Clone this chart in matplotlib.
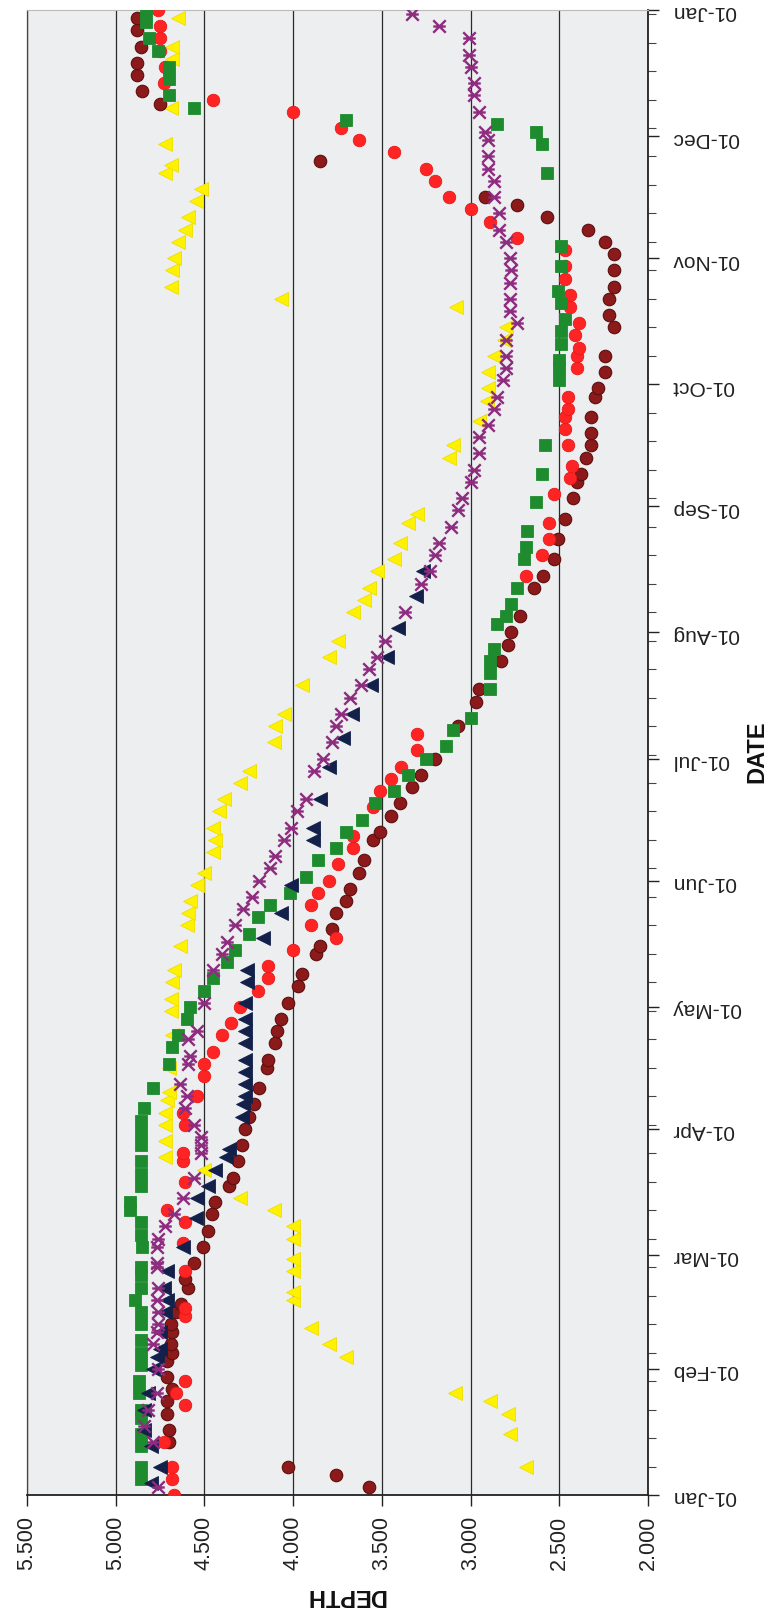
import matplotlib
matplotlib.use("Agg")
import matplotlib.pyplot as plt
import matplotlib.dates as mdates
from matplotlib.path import Path
from matplotlib.ticker import FormatStrFormatter, FixedLocator
import datetime as dt

plt.rcParams['font.family'] = ['Liberation Sans', 'DejaVu Sans']

# (day offset from 01-Jan-2010, depth)
maroon = [(2,3.57),(5,3.76),(7,4.03),(13,4.70),(16,4.70),(20,4.71),(23,4.71),(26,4.68),(29,4.71),(33,4.71),(35,4.68),(37,4.69),(40,4.68),(42,4.69),(45,4.66),(47,4.63),(51,4.59),(53,4.61),(57,4.56),(61,4.51),(65,4.48),(69,4.46),(72,4.44),(76,4.36),(78,4.34),(82,4.31),(86,4.29),(90,4.27),(93,4.25),(96,4.22),(100,4.19),(105,4.15),(107,4.14),(111,4.10),(114,4.09),(117,4.07),(121,4.03),(125,3.97),(128,3.95),(133,3.87),(135,3.85),(139,3.78),(143,3.76),(146,3.70),(149,3.68),(153,3.63),(156,3.60),(161,3.55),(163,3.51),(167,3.45),(170,3.40),(174,3.33),(177,3.28),(181,3.20),(189,3.07),(195,2.97),(198,2.95),(205,2.83),(209,2.79),(212,2.77),(216,2.72),(223,2.64),(226,2.59),(230,2.53),(235,2.51),(240,2.47),(245,2.42),(249,2.40),(251,2.38),(255,2.35),(258,2.32),(261,2.32),(265,2.32),(270,2.30),(272,2.28),(276,2.24),(280,2.24),(287,2.19),(290,2.22),(294,2.22),(297,2.19),(301,2.19),(305,2.19),(308,2.24),(311,2.34),(314,2.57),(317,2.74),(319,2.92),(328,3.85),(342,4.75),(345,4.85),(349,4.88),(352,4.88),(356,4.86),(360,4.88),(363,4.88)]

red = [(0,4.67),(4,4.68),(7,4.68),(13,4.73),(22,4.61),(25,4.66),(28,4.61),(44,4.61),(46,4.61),(55,4.61),(62,4.62),(67,4.61),(70,4.71),(77,4.61),(82,4.62),(84,4.62),(91,4.61),(94,4.62),(98,4.54),(103,4.50),(106,4.50),(109,4.45),(113,4.40),(116,4.35),(120,4.30),(124,4.20),(127,4.14),(130,4.14),(134,4.00),(137,3.76),(140,3.90),(145,3.90),(148,3.86),(151,3.80),(155,3.75),(159,3.66),(162,3.66),(169,3.55),(173,3.51),(176,3.45),(179,3.39),(183,3.30),(187,3.30),(226,2.69),(231,2.60),(235,2.56),(239,2.56),(246,2.53),(250,2.44),(253,2.43),(258,2.45),(262,2.47),(265,2.47),(267,2.45),(270,2.45),(277,2.40),(280,2.40),(282,2.39),(285,2.41),(288,2.39),(292,2.44),(295,2.44),(299,2.47),(302,2.47),(306,2.47),(309,2.74),(313,2.89),(316,3.00),(319,3.12),(323,3.20),(326,3.25),(330,3.43),(333,3.63),(336,3.73),(340,4.00),(343,4.45),(347,4.73),(351,4.72),(355,4.75),(358,4.75),(361,4.75),(365,4.76)]

green = [(4,4.86),(7,4.86),(12,4.86),(15,4.86),(19,4.86),(21,4.86),(25,4.87),(28,4.87),(32,4.86),(35,4.86),(38,4.86),(42,4.86),(45,4.86),(48,4.89),(51,4.86),(54,4.86),(56,4.86),(61,4.85),(64,4.86),(67,4.86),(70,4.92),(72,4.92),(76,4.86),(79,4.86),(82,4.86),(86,4.86),(89,4.86),(92,4.86),(95,4.84),(100,4.79),(106,4.70),(110,4.68),(113,4.65),(117,4.60),(120,4.58),(124,4.50),(127,4.45),(131,4.37),(134,4.33),(138,4.25),(142,4.20),(145,4.13),(148,4.02),(152,3.93),(156,3.86),(159,3.76),(163,3.70),(166,3.61),(170,3.54),(173,3.43),(177,3.35),(181,3.25),(184,3.14),(188,3.10),(191,3.00),(198,2.89),(202,2.89),(205,2.89),(208,2.87),(214,2.85),(216,2.80),(219,2.77),(223,2.74),(230,2.70),(233,2.69),(237,2.68),(244,2.63),(251,2.60),(258,2.58),(274,2.50),(277,2.50),(279,2.50),(283,2.49),(286,2.49),(289,2.47),(293,2.49),(296,2.51),(302,2.49),(307,2.49),(325,2.57),(332,2.60),(335,2.63),(337,2.85),(338,3.70),(341,4.56),(344,4.70),(348,4.70),(351,4.70),(355,4.76),(358,4.81),(362,4.83),(365,4.83)]

navy = [(3,4.80),(7,4.75),(12,4.80),(16,4.84),(21,4.84),(25,4.82),(31,4.79),(34,4.77),(36,4.75),(40,4.75),(45,4.72),(48,4.71),(51,4.73),(55,4.71),(61,4.62),(68,4.55),(73,4.54),(76,4.48),(80,4.44),(83,4.38),(85,4.36),(93,4.29),(96,4.28),(98,4.27),(101,4.27),(104,4.27),(107,4.27),(111,4.27),(114,4.27),(117,4.27),(121,4.27),(126,4.26),(129,4.26),(137,4.17),(143,4.07),(150,4.01),(161,3.89),(164,3.89),(171,3.85),(179,3.80),(186,3.72),(192,3.67),(199,3.56),(206,3.47),(213,3.41),(221,3.31),(227,3.27)]

purple = [(2,4.76),(13,4.79),(17,4.84),(21,4.82),(25,4.77),(31,4.76),(37,4.79),(40,4.77),(42,4.76),(45,4.76),(48,4.77),(51,4.76),(56,4.77),(57,4.77),(61,4.77),(63,4.76),(66,4.72),(69,4.67),(73,4.62),(78,4.56),(84,4.52),(86,4.52),(88,4.52),(91,4.56),(95,4.61),(98,4.60),(101,4.64),(106,4.59),(108,4.58),(112,4.59),(114,4.54),(121,4.50),(129,4.45),(133,4.40),(136,4.37),(140,4.33),(144,4.28),(147,4.23),(151,4.19),(154,4.13),(157,4.10),(161,4.05),(164,4.01),(168,3.98),(171,3.93),(178,3.88),(181,3.83),(185,3.78),(189,3.76),(192,3.73),(196,3.68),(199,3.62),(203,3.57),(206,3.53),(210,3.48),(217,3.37),(224,3.28),(227,3.23),(231,3.20),(234,3.18),(238,3.11),(242,3.07),(245,3.05),(249,3.00),(252,2.98),(256,2.95),(260,2.95),(263,2.90),(267,2.87),(270,2.85),(274,2.82),(277,2.80),(280,2.80),(284,2.80),(288,2.74),(291,2.78),(294,2.78),(298,2.78),(301,2.77),(304,2.78),(308,2.80),(311,2.84),(315,2.84),(319,2.87),(323,2.87),(326,2.90),(329,2.90),(333,2.90),(335,2.92),(340,2.95),(344,2.98),(347,2.98),(351,3.00),(354,3.01),(358,3.01),(361,3.18),(364,3.33)]

yellow = [(7,2.69),(15,2.78),(20,2.79),(23,2.89),(25,3.09),(34,3.70),(37,3.80),(41,3.90),(48,4.00),(50,4.00),(55,4.00),(58,4.00),(63,4.00),(66,4.00),(70,4.11),(73,4.30),(80,4.50),(83,4.72),(87,4.72),(91,4.72),(94,4.72),(97,4.71),(99,4.70),(105,4.70),(113,4.68),(119,4.69),(122,4.69),(126,4.68),(129,4.67),(135,4.64),(140,4.60),(143,4.59),(146,4.58),(150,4.54),(153,4.50),(158,4.45),(161,4.44),(164,4.45),(168,4.42),(171,4.39),(175,4.30),(178,4.25),(185,4.11),(189,4.10),(192,4.05),(199,3.95),(206,3.80),(210,3.75),(217,3.66),(220,3.60),(223,3.57),(227,3.53),(230,3.43),(234,3.40),(239,3.35),(241,3.30),(255,3.12),(258,3.10),(264,2.95),(269,2.91),(272,2.90),(276,2.90),(280,2.87),(284,2.81),(287,2.80),(292,3.08),(294,4.07),(297,4.69),(301,4.68),(304,4.67),(308,4.65),(311,4.61),(314,4.59),(318,4.55),(321,4.52),(325,4.72),(327,4.69),(332,4.72),(341,4.69),(353,4.68),(356,4.68),(363,4.65)]

depth_ticks = [5.5, 5.0, 4.5, 4.0, 3.5, 3.0, 2.5, 2.0]
start = dt.datetime(2010, 1, 1)
end = dt.datetime(2011, 1, 1)

def xy(series):
    d = [p[1] for p in series]
    t = [start + dt.timedelta(days=p[0]) for p in series]
    return d, t

W, H = 767, 1617
fig = plt.figure(figsize=(W / 100, H / 100), dpi=100)
L, R, T, B = 27, 648, 10, 1495
ax = fig.add_axes([L/W, 1 - B/H, (R-L)/W, (B-T)/H])
ax.set_facecolor('#ECEEF0')

star = Path([(-1, -1), (1, 1), (-1, 1), (1, -1), (-1, 0), (1, 0)],
            [Path.MOVETO, Path.LINETO, Path.MOVETO, Path.LINETO, Path.MOVETO, Path.LINETO])

d, t = xy(yellow)
ax.plot(d, t, ls='none', marker='<', ms=10, mfc='#FFF200', mec='#EEDD00', mew=0.6, zorder=3)
d, t = xy(maroon)
ax.plot(d, t, ls='none', marker='o', ms=9, mfc='#8C1A1A', mec='#5C0F0F', mew=0.8, zorder=4)
d, t = xy(red)
ax.plot(d, t, ls='none', marker='o', ms=9, mfc='#FF2424', mec='#E81818', mew=0.6, zorder=5)
d, t = xy(green)
ax.plot(d, t, ls='none', marker='s', ms=9, mfc='#1E8C2E', mec='#1E8C2E', mew=0.6, zorder=6)
d, t = xy(navy)
ax.plot(d, t, ls='none', marker='<', ms=10, mfc='#13204A', mec='#13204A', mew=0.6, zorder=7)
d, t = xy(purple)
ax.plot(d, t, ls='none', marker=star, ms=9, mfc='none', mec='#8E2C80', mew=1.7, zorder=8)

ax.set_xlim(5.5, 2.0)
ax.set_ylim(start, end)

ax.xaxis.set_major_locator(FixedLocator(depth_ticks))
ax.xaxis.set_major_formatter(FormatStrFormatter('%.3f'))
ax.grid(axis='x', color='#2a2a2a', lw=0.9, zorder=1)
ax.set_axisbelow(True)

ax.yaxis.tick_right()
ax.yaxis.set_major_locator(mdates.MonthLocator())
ax.yaxis.set_major_formatter(mdates.DateFormatter('%d-%b'))
weeks = [start + dt.timedelta(days=7 * k) for k in range(53)]
ax.yaxis.set_minor_locator(FixedLocator(mdates.date2num(weeks)))

ax.tick_params(axis='y', which='major', direction='out', length=8, width=1,
               labelsize=15, labelrotation=180, pad=9, colors='#222222')
ax.tick_params(axis='y', which='minor', direction='out', length=6, width=0.8, colors='#444444')
ax.tick_params(axis='x', which='major', direction='out', length=8, width=1,
               labelsize=15.5, labelrotation=90, pad=7, colors='#222222')

for s in ['bottom', 'right']:
    ax.spines[s].set_color('#222222')
    ax.spines[s].set_linewidth(1.3)
ax.spines['left'].set_color('#444444')
ax.spines['left'].set_linewidth(0.9)
ax.spines['top'].set_color('#BBBBBB')
ax.spines['top'].set_linewidth(0.8)

bold_family = ['Liberation Sans Narrow', 'Liberation Sans', 'DejaVu Sans']
fig.text(345 / W, 1 - 1595 / H, 'DEPTH', rotation=180, ha='center', va='center',
         fontsize=17, fontweight='bold', color='#111111', family=bold_family)
fig.text(757 / W, 1 - 752 / H, 'DATE', rotation=90, ha='center', va='center',
         fontsize=17, fontweight='bold', color='#111111', family=bold_family)

fig.savefig('out.png', dpi=100, facecolor='white')
